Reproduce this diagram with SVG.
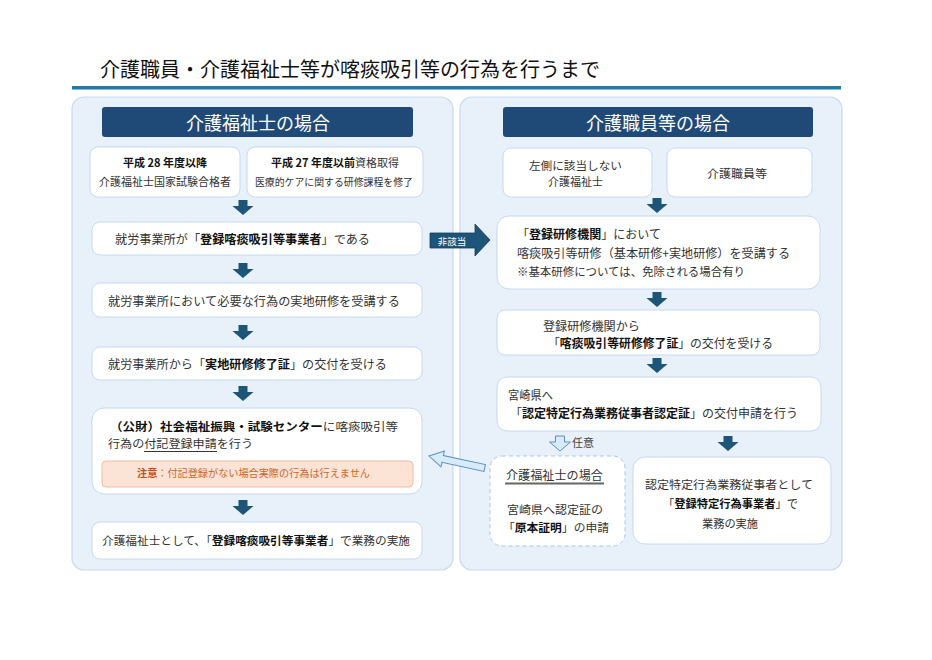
<svg xmlns="http://www.w3.org/2000/svg" xmlns:xlink="http://www.w3.org/1999/xlink" width="932" height="660" viewBox="0 0 932 660">
<style>
text{font-family:"Noto Sans CJK JP","Noto Sans",sans-serif;fill:#333;}
.b{font-weight:700;fill:#111;}
.panel{fill:#e8f0f9;stroke:#c6dbef;stroke-width:1.2;}
.hdr{fill:#1f4a78;}
.hdrt{fill:#fff;font-size:18px;}
.box{fill:#fff;stroke:#c5daf0;stroke-width:1;}
.dash{fill:#fff;stroke:#a9c8e8;stroke-width:1;stroke-dasharray:4 3;}
.darr{fill:#1d5578;}
.larr{fill:#d7ebfa;stroke:#5b8fc6;stroke-width:1;}
.t12{font-size:12px;}
.t11{font-size:11px;}
.t10{font-size:10px;}
</style>
<defs>
<path id="down" d="M-4.5,0 H4.5 V6 H10.5 L0,15 L-10.5,6 H-4.5 Z"/>
</defs>
<rect width="932" height="660" fill="#fff"/>
<g id="title">
<text x="100" y="77" font-size="20" textLength="500" lengthAdjust="spacingAndGlyphs" style="fill:#111">介護職員・介護福祉士等が喀痰吸引等の行為を行うまで</text>
<rect x="72" y="86" width="769" height="3.5" fill="#1f7aa6"/>
</g>
<g id="panel-left">
<rect class="panel" x="72" y="97" width="381" height="473" rx="12"/>
<rect class="hdr" x="102" y="107" width="311" height="30" rx="3"/>
<text class="hdrt" x="258" y="129.5" text-anchor="middle">介護福祉士の場合</text>
</g>
<g id="panel-right">
<rect class="panel" x="460" y="97" width="382" height="473" rx="12"/>
<rect class="hdr" x="503" y="107" width="310" height="30" rx="3"/>
<text class="hdrt" x="658" y="129.5" text-anchor="middle">介護職員等の場合</text>
</g>
<g id="n-h28">
<rect class="box" x="90" y="147" width="150" height="50" rx="8"/>
<text class="t11 b" x="165" y="167" text-anchor="middle">平成 28 年度以降</text>
<text class="t11" x="99" y="185.5" textLength="132" lengthAdjust="spacingAndGlyphs">介護福祉士国家試験合格者</text>
</g>
<g id="n-h27">
<rect class="box" x="247" y="147" width="176" height="50" rx="8"/>
<text class="t11" x="271" y="167"><tspan class="b">平成 27 年度以前</tspan>資格取得</text>
<text class="t10" x="255" y="185.5" textLength="158" lengthAdjust="spacingAndGlyphs">医療的ケアに関する研修課程を修了</text>
</g>
<g id="n-l1">
<rect class="box" x="92" y="222" width="330" height="33" rx="8"/>
<text x="115" y="244" font-size="12.5" textLength="255" lengthAdjust="spacingAndGlyphs">就労事業所が「<tspan class="b">登録喀痰吸引等事業者</tspan>」である</text>
</g>
<g id="n-l2">
<rect class="box" x="92" y="283" width="330" height="34" rx="8"/>
<text x="108" y="305.5" font-size="12" textLength="292" lengthAdjust="spacingAndGlyphs">就労事業所において必要な行為の実地研修を受講する</text>
</g>
<g id="n-l3">
<rect class="box" x="92" y="347" width="330" height="33" rx="8"/>
<text x="108" y="368.5" font-size="12" textLength="279" lengthAdjust="spacingAndGlyphs">就労事業所から「<tspan class="b">実地研修修了証</tspan>」の交付を受ける</text>
</g>
<g id="n-l4">
<rect class="box" x="92" y="408" width="330" height="86" rx="12"/>
<text x="110" y="431" font-size="11.5" textLength="288" lengthAdjust="spacingAndGlyphs"><tspan class="b">（公財）社会福祉振興・試験センター</tspan>に喀痰吸引等</text>
<text x="108" y="448" font-size="11.5" textLength="145" lengthAdjust="spacingAndGlyphs">行為の付記登録申請を行う</text>
<line x1="144" y1="451.5" x2="217" y2="451.5" stroke="#333" stroke-width="1"/>
<rect x="102" y="461" width="311" height="26" rx="4" fill="#fbe3d6" stroke="#f4bb9c" stroke-width="1"/>
<text x="137" y="477" font-size="10" textLength="233" lengthAdjust="spacingAndGlyphs" style="fill:#d0662a"><tspan style="font-weight:700;fill:#c0501a">注意</tspan>：付記登録がない場合実際の行為は行えません</text>
</g>
<g id="n-l5">
<rect class="box" x="92" y="522" width="330" height="37" rx="8"/>
<text x="102" y="545" font-size="11.5" textLength="308" lengthAdjust="spacingAndGlyphs">介護福祉士として、「<tspan class="b">登録喀痰吸引等事業者</tspan>」で業務の実施</text>
</g>
<g id="n-r-a">
<rect class="box" x="503" y="148" width="149" height="49" rx="8"/>
<text x="529" y="170" font-size="11.5" textLength="93" lengthAdjust="spacingAndGlyphs">左側に該当しない</text>
<text x="548" y="185.5" font-size="11.5" textLength="55" lengthAdjust="spacingAndGlyphs">介護福祉士</text>
</g>
<g id="n-r-b">
<rect class="box" x="667" y="148" width="145" height="49" rx="8"/>
<text x="707" y="177.5" font-size="11.5" textLength="60" lengthAdjust="spacingAndGlyphs">介護職員等</text>
</g>
<g id="n-r1">
<rect class="box" x="497" y="216" width="323" height="73" rx="12"/>
<text x="517" y="238.5" font-size="12" textLength="144" lengthAdjust="spacingAndGlyphs">「<tspan class="b">登録研修機関</tspan>」において</text>
<text x="517" y="257.5" font-size="12" textLength="273" lengthAdjust="spacingAndGlyphs">喀痰吸引等研修（基本研修+実地研修）を受講する</text>
<text x="517" y="275.5" font-size="11.5" textLength="228" lengthAdjust="spacingAndGlyphs">※基本研修については、免除される場合有り</text>
</g>
<g id="n-r2">
<rect class="box" x="497" y="310" width="323" height="45" rx="8"/>
<text x="543" y="330.5" font-size="12" textLength="97" lengthAdjust="spacingAndGlyphs">登録研修機関から</text>
<text x="548" y="347.5" font-size="12" textLength="225" lengthAdjust="spacingAndGlyphs">「<tspan class="b">喀痰吸引等研修修了証</tspan>」の交付を受ける</text>
</g>
<g id="n-r3">
<rect class="box" x="497" y="377" width="324" height="54" rx="10"/>
<text x="508" y="399.5" font-size="12" textLength="45" lengthAdjust="spacingAndGlyphs">宮崎県へ</text>
<text x="510" y="417.5" font-size="12" textLength="288" lengthAdjust="spacingAndGlyphs">「<tspan class="b">認定特定行為業務従事者認定証</tspan>」の交付申請を行う</text>
</g>
<g id="n-r4">
<rect class="dash" x="490" y="456" width="135" height="90" rx="12"/>
<text x="506" y="479.5" font-size="12" textLength="97" lengthAdjust="spacingAndGlyphs">介護福祉士の場合</text>
<line x1="505" y1="483.5" x2="604" y2="483.5" stroke="#666" stroke-width="2"/>
<text x="507" y="513.5" font-size="11.5" textLength="96" lengthAdjust="spacingAndGlyphs">宮崎県へ認定証の</text>
<text x="503" y="531.5" font-size="11.5" textLength="106" lengthAdjust="spacingAndGlyphs">「<tspan class="b">原本証明</tspan>」の申請</text>
</g>
<g id="n-r5">
<rect class="box" x="633" y="457" width="198" height="87" rx="12"/>
<text x="645" y="489" font-size="11.5" textLength="168" lengthAdjust="spacingAndGlyphs">認定特定行為業務従事者として</text>
<text x="663" y="507.5" font-size="11.5" textLength="135" lengthAdjust="spacingAndGlyphs">「<tspan class="b">登録特定行為事業者</tspan>」で</text>
<text x="702" y="527.5" font-size="11.5" textLength="56" lengthAdjust="spacingAndGlyphs">業務の実施</text>
</g>
<g id="connectors">
<use href="#down" class="darr" x="243" y="200"/>
<use href="#down" class="darr" x="243" y="263"/>
<use href="#down" class="darr" x="243" y="325"/>
<use href="#down" class="darr" x="243" y="386"/>
<use href="#down" class="darr" x="243" y="500"/>
<use href="#down" class="darr" x="657" y="198"/>
<use href="#down" class="darr" x="657" y="292"/>
<use href="#down" class="darr" x="657" y="358"/>
<use href="#down" class="darr" x="728" y="436"/>
<use href="#down" class="larr" x="560" y="436"/>
<text x="572" y="447" font-size="11" style="fill:#444">任意</text>
<path class="darr" d="M430,233 H475 V224 L490,240 L475,256 V248 H430 Z" stroke="#15405c" stroke-width="0.8"/>
<text x="452" y="244.5" font-size="9.5" text-anchor="middle" style="fill:#fff">非該当</text>
<path class="larr" transform="translate(429,456) rotate(12.1)" d="M0,0 L14,-8 L14,-3.5 L57,-3.5 L57,3.5 L14,3.5 L14,8 Z"/>
</g>
</svg>
